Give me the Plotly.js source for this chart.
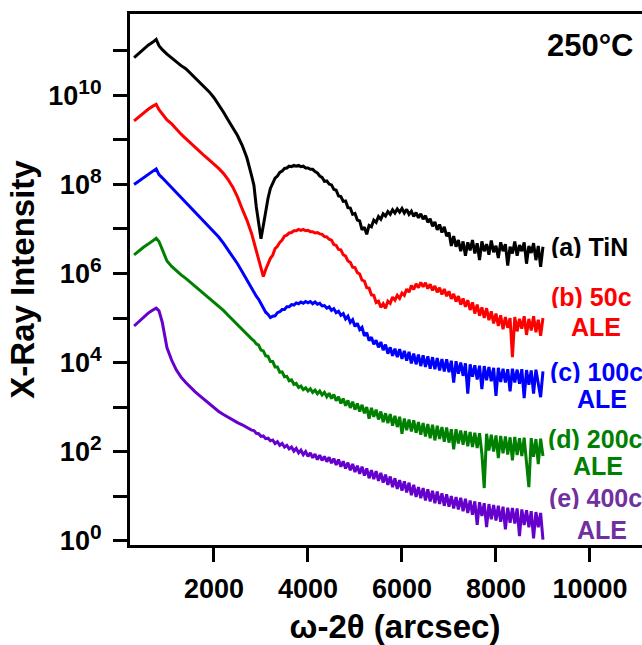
<!DOCTYPE html>
<html>
<head>
<meta charset="utf-8">
<script src="https://cdn.plot.ly/plotly-3.0.1.min.js"></script>
<style>
html, body { margin: 0; padding: 0; overflow: hidden; background: #fff; }
#chart { width: 660px; height: 645px; }
</style>
</head>
<body>
<div id="chart"></div>
<script>
// ω-2θ positions (arcsec)
const angle = [300,400,500,600,700,770,830,900,1000,1100,1200,1300,1400,1500,1600,1700,1800,1900,2000,2100,2200,2300,2400,2500,2600,2700,2800,
2850,2900,2950,
3000,3050,3100,3150,3200,3250,3300,3350,3400,3450,3500,3550,3600,3650,3700,3750,3800,3850,3900,3950,
4000,4050,4100,4150,4200,4250,4300,4350,4400,4450,4500,4550,4600,4650,4700,4750,4800,4850,4900,4950,
5000,5050,5100,5150,5200,5250,5300,5350,5400,5450,5500,5550,5600,5650,5700,5750,5800,5850,5900,5950,
6000,6050,6100,6150,6200,6250,6300,6350,6400,6450,6500,6550,6600,6650,6700,6750,6800,6850,6900,6950,
7000,7050,7100,7150,7200,7250,7300,7350,7400,7450,7500,7550,7600,7650,7700,7750,7800,7850,7900,7950,
8000,8050,8100,8150,8200,8250,8300,8350,8400,8450,8500,8550,8600,8650,8700,8750,8800,8850,8900,8950,
9000];

// log10(X-ray intensity)
const logTiN = [10.85,10.95,11.05,11.13,11.20,11.26,11.12,11.03,10.93,10.84,10.75,10.67,10.60,10.50,10.40,10.30,10.20,10.08,9.95,9.80,9.63,9.45,9.28,9.10,8.88,8.60,8.20,
7.98,7.50,7.12,
6.78,7.08,7.42,7.69,7.91,8.02,8.14,8.19,8.27,8.30,8.36,8.37,8.41,8.40,8.43,8.41,8.43,8.40,8.41,8.37,
8.37,8.34,8.34,8.29,8.26,8.19,8.16,8.07,8.08,8.01,7.99,7.89,7.87,7.74,7.73,7.62,7.63,7.48,7.47,7.33,
7.35,7.20,7.18,6.98,7.04,6.88,7.08,7.05,7.20,7.15,7.28,7.22,7.34,7.29,7.39,7.33,7.43,7.36,7.45,7.38,
7.46,7.36,7.44,7.33,7.40,7.28,7.37,7.25,7.34,7.22,7.30,7.15,7.23,7.06,7.16,6.98,7.10,6.92,7.05,6.84,
6.92,6.62,6.84,6.60,6.75,6.50,6.72,6.40,6.70,6.52,6.75,6.45,6.68,6.30,6.72,6.50,6.66,6.42,6.74,6.48,
6.62,6.35,6.70,6.50,6.66,6.18,6.60,6.45,6.72,6.40,6.64,6.50,6.70,6.22,6.62,6.46,6.68,6.30,6.62,6.15,
6.60];

const logALE50 = [9.43,9.52,9.61,9.69,9.76,9.80,9.68,9.59,9.45,9.36,9.24,9.13,9.03,8.94,8.84,8.74,8.64,8.55,8.46,8.36,8.25,8.11,7.94,7.72,7.45,7.20,6.90,
6.70,6.47,6.29,
6.08,5.93,6.09,6.20,6.34,6.41,6.56,6.61,6.70,6.75,6.84,6.86,6.91,6.92,6.96,6.96,6.99,6.97,6.99,6.96,
6.97,6.94,6.94,6.91,6.92,6.89,6.88,6.83,6.82,6.77,6.75,6.65,6.63,6.54,6.53,6.42,6.39,6.28,6.25,6.14,
6.13,6.02,5.99,5.85,5.83,5.68,5.67,5.52,5.51,5.35,5.38,5.24,5.32,5.22,5.38,5.33,5.47,5.40,5.51,5.44,
5.56,5.51,5.65,5.58,5.73,5.64,5.77,5.68,5.80,5.70,5.79,5.66,5.76,5.62,5.72,5.58,5.68,5.53,5.65,5.49,
5.60,5.43,5.54,5.37,5.49,5.30,5.44,5.25,5.40,5.18,5.35,5.10,5.30,5.05,5.24,5.00,5.22,4.95,5.15,4.88,
5.10,4.82,5.06,4.75,5.02,4.78,5.00,4.12,5.02,4.70,4.98,4.76,5.04,4.62,4.98,4.72,5.04,4.68,4.96,4.60,
5.00];

const logALE100 = [8.00,8.08,8.16,8.23,8.30,8.35,8.22,8.15,8.04,7.93,7.82,7.71,7.60,7.49,7.38,7.28,7.17,7.06,6.95,6.82,6.68,6.53,6.38,6.22,6.04,5.85,5.67,
5.58,5.49,5.42,
5.32,5.25,5.13,5.08,5.01,5.04,5.05,5.12,5.14,5.19,5.19,5.25,5.25,5.30,5.29,5.34,5.32,5.36,5.33,5.37,
5.34,5.37,5.32,5.36,5.31,5.33,5.27,5.28,5.22,5.25,5.17,5.21,5.12,5.15,5.06,5.10,4.98,5.04,4.90,4.96,
4.81,4.88,4.74,4.79,4.60,4.67,4.49,4.57,4.41,4.50,4.34,4.46,4.28,4.40,4.20,4.34,4.15,4.31,4.12,4.30,
4.08,4.26,4.04,4.24,3.98,4.20,3.96,4.18,3.92,4.16,3.90,4.14,3.86,4.12,3.85,4.10,3.82,4.08,3.80,4.07,
3.78,4.04,3.55,4.03,3.75,4.00,3.70,3.98,3.30,3.96,3.68,3.94,3.62,3.93,3.40,3.92,3.60,3.90,3.58,3.88,
3.25,3.88,3.56,3.86,3.55,3.85,3.35,3.86,3.55,3.84,3.52,3.85,3.20,3.83,3.50,3.82,3.30,3.84,3.50,3.22,
3.80];

const logALE200 = [6.42,6.51,6.59,6.66,6.73,6.79,6.72,6.55,6.28,6.16,6.06,5.97,5.89,5.80,5.72,5.64,5.55,5.46,5.37,5.27,5.17,5.06,4.95,4.85,4.75,4.64,4.53,
4.49,4.42,4.39,
4.28,4.26,4.15,4.14,4.02,4.02,3.90,3.90,3.78,3.79,3.68,3.69,3.59,3.61,3.51,3.53,3.44,3.47,3.39,3.43,
3.36,3.41,3.33,3.38,3.30,3.36,3.27,3.33,3.23,3.31,3.19,3.28,3.14,3.23,3.08,3.19,3.03,3.15,2.98,3.12,
2.94,3.08,2.90,3.05,2.86,3.00,2.74,2.98,2.78,2.94,2.72,2.90,2.66,2.86,2.64,2.84,2.58,2.80,2.55,2.78,
2.40,2.74,2.48,2.72,2.45,2.70,2.42,2.66,2.38,2.64,2.34,2.62,2.30,2.60,2.25,2.58,2.28,2.55,2.22,2.54,
2.20,2.50,2.05,2.50,2.18,2.47,2.15,2.46,2.12,2.44,2.10,2.42,2.08,2.41,1.95,1.18,2.40,2.02,2.38,2.00,
2.36,1.85,2.35,1.96,2.34,1.93,2.32,1.80,2.33,1.92,2.30,1.90,2.31,1.75,1.20,2.30,1.88,2.28,1.72,2.29,
1.90];

const logALE400 = [4.82,4.92,5.02,5.11,5.18,5.22,5.16,4.90,4.33,4.05,3.83,3.67,3.55,3.44,3.34,3.25,3.16,3.08,2.98,2.90,2.83,2.77,2.70,2.65,2.60,2.54,2.48,
2.47,2.41,2.40,
2.34,2.35,2.29,2.30,2.24,2.26,2.18,2.22,2.14,2.18,2.10,2.14,2.06,2.10,2.01,2.07,1.97,2.03,1.93,2.00,
1.89,1.97,1.86,1.94,1.82,1.92,1.80,1.89,1.77,1.87,1.74,1.84,1.70,1.82,1.66,1.78,1.62,1.75,1.58,1.72,
1.54,1.68,1.50,1.66,1.46,1.62,1.40,1.58,1.38,1.56,1.34,1.52,1.30,1.48,1.25,1.44,1.20,1.40,1.16,1.36,
1.12,1.33,1.08,1.30,1.02,1.25,0.98,1.20,0.95,1.18,0.90,1.15,0.88,1.12,0.84,1.10,0.82,1.06,0.78,1.04,
0.76,1.00,0.72,0.98,0.70,0.96,0.66,0.94,0.62,0.90,0.58,0.88,0.35,0.86,0.55,0.84,0.30,0.82,0.48,0.80,
0.45,0.78,0.42,0.76,0.25,0.74,0.40,0.73,0.38,0.72,0.10,0.70,0.35,0.68,0.30,0.66,0.05,0.64,0.30,0.62,
0.02];

const seriesLabels = ['(a) TiN', '(b) 50c', '(c) 100c', '(d) 200c', '(e) 400c'];
const seriesSub = ['', 'ALE', 'ALE', 'ALE', 'ALE'];
const xTickVals = [2000, 4000, 6000, 8000, 10000];
const xTickText = ['2000', '4000', '6000', '8000', '10000'];
const yTickVals = [1e0,1e1,1e2,1e3,1e4,1e5,1e6,1e7,1e8,1e9,1e10,1e11];
const yTickExp = ['0','','2','','4','','6','','8','','10',''];
const tempLabel = '250°C';

const lineColors = ['#000000', '#ff0000', '#0000ff', '#008000', '#6600cc'];
const textColors = ['#000000', '#ff0000', '#0000ff', '#008000', '#7030a0'];
const allLogs = [logTiN, logALE50, logALE100, logALE200, logALE400];

const yTickText = yTickExp.map(e => e === '' ? '' :
  '10<sup><span style="font-size:21px">' + e + '</span></sup>');

const traces = allLogs.map((lg, i) => ({
  type: 'scatter', mode: 'lines',
  x: angle, y: lg.map(v => Math.pow(10, v)),
  line: {color: lineColors[i], width: 3},
  name: seriesLabels[i], hoverinfo: 'skip'
}));

// layout geometry helpers (pixels -> paper)
const W = 660, H = 645, ML = 130, MR = 0, MT = 14, MB = 100;
const PW = W - ML - MR, PH = H - MT - MB;
const px = p => (p - ML) / PW;
const py = p => (H - MB - p) / PH;

const FONT = 'Arial, "Liberation Sans", Helvetica, sans-serif';
const lab1 = [[549,247],[549,297],[548,372],[546,439],[547,497.5]];
const lab2 = [null,[596,326.5],[601.7,399],[598,466],[602,530]];

const annotations = [{
  xref:'paper', yref:'paper', x: px(545), y: py(45), xanchor:'left', yanchor:'middle',
  text: tempLabel, showarrow:false, font:{family:FONT, size:31, color:'#000', weight:'bold'}
}];
seriesLabels.forEach((t, i) => {
  annotations.push({xref:'paper', yref:'paper', x:px(lab1[i][0]), y:py(lab1[i][1]),
    xanchor:'left', yanchor:'middle', text:t, showarrow:false, height:22,
    font:{family:FONT, size:25, color:textColors[i], weight:'bold'}});
  if (seriesSub[i]) {
    annotations.push({xref:'paper', yref:'paper', x:px(lab2[i][0]), y:py(lab2[i][1]),
      xanchor:'center', yanchor:'middle', text:seriesSub[i], showarrow:false, height:20,
      font:{family:FONT, size:25, color:textColors[i], weight:'bold'}});
  }
});

const axisCommon = {
  showgrid:false, zeroline:false, showline:true, linewidth:3, linecolor:'#000',
  mirror:true, ticks:'outside', ticklen:14, tickwidth:3, tickcolor:'#000'
};

const layout = {
  width: W, height: H,
  margin: {l:ML, r:MR, t:MT, b:MB},
  paper_bgcolor:'#fff', plot_bgcolor:'#fff',
  showlegend:false,
  font:{family:FONT, color:'#000'},
  xaxis: Object.assign({}, axisCommon, {
    range:[213, 11490], tickmode:'array', tickvals:xTickVals, ticktext:xTickText,
    tickfont:{family:FONT, size:27, color:'#000', weight:'bold'},
    ticklabelstandoff: 4,
    title:{text:'ω-2θ (arcsec)', font:{family:FONT, size:33, color:'#000', weight:'bold'}, standoff:16}
  }),
  yaxis: Object.assign({}, axisCommon, {
    type:'log', range:[-0.1, 11.83], tickmode:'array', tickvals:yTickVals, ticktext:yTickText,
    tickfont:{family:FONT, size:27, color:'#000', weight:'bold'},
    ticklabelstandoff: 6,
    title:{text:'X-Ray Intensity', font:{family:FONT, size:33, color:'#000', weight:'bold'}, standoff:4}
  }),
  annotations: annotations
};

Plotly.newPlot('chart', traces, layout, {staticPlot:true, displayModeBar:false});
</script>
</body>
</html>
